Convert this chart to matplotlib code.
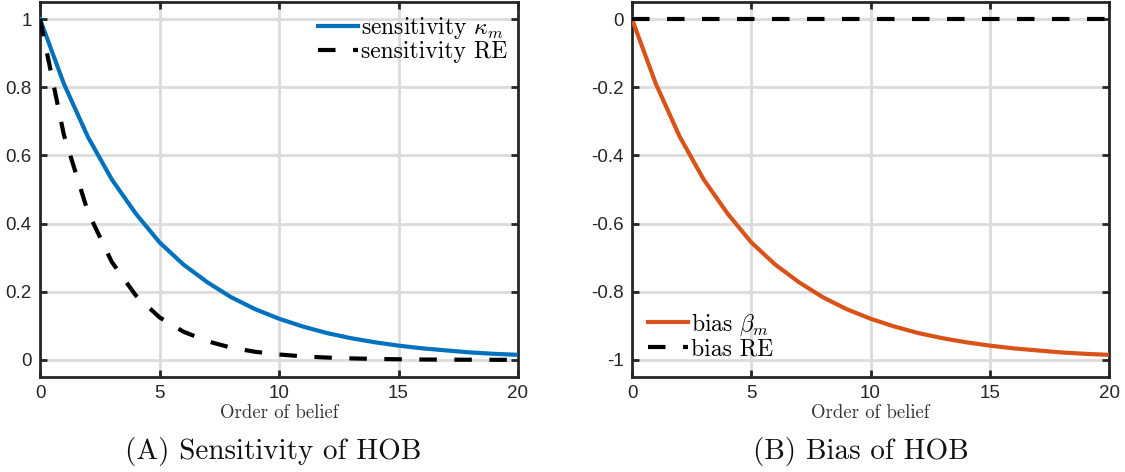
import matplotlib
matplotlib.use("Agg")
import matplotlib.pyplot as plt

# ---- data ----
order = list(range(21))
kappa_m = [1.0, 0.81, 0.655, 0.53, 0.43, 0.345, 0.28, 0.228, 0.184, 0.149, 0.121,
           0.098, 0.079, 0.064, 0.052, 0.042, 0.034, 0.028, 0.022, 0.018, 0.015]
kappa_re = [1.0, 0.66, 0.435, 0.288, 0.19, 0.125, 0.083, 0.055, 0.036, 0.024, 0.016,
            0.0105, 0.007, 0.0046, 0.003, 0.002, 0.0013, 0.0009, 0.0006, 0.0004, 0.0003]
beta_m = [0.0, -0.19, -0.345, -0.47, -0.57, -0.655, -0.72, -0.772, -0.816, -0.851, -0.879,
          -0.902, -0.921, -0.936, -0.948, -0.958, -0.966, -0.972, -0.978, -0.982, -0.985]
beta_re = [0.0] * 21

xticks = [0, 5, 10, 15, 20]
xticklabels = ['0', '5', '10', '15', '20']
yticks_a = [0, 0.2, 0.4, 0.6, 0.8, 1.0]
yticklabels_a = ['0', '0.2', '0.4', '0.6', '0.8', '1']
yticks_b = [-1.0, -0.8, -0.6, -0.4, -0.2, 0.0]
yticklabels_b = ['-1', '-0.8', '-0.6', '-0.4', '-0.2', '0']

xlabel = 'Order of belief'
caption_a = '(A) Sensitivity of HOB'
caption_b = '(B) Bias of HOB'
leg_a = [r'sensitivity $\kappa_m$', 'sensitivity RE']
leg_b = [r'bias $\beta_m$', 'bias RE']

# ---- style ----
plt.rcParams['mathtext.fontset'] = 'cm'
BLUE = '#0072BD'
ORANGE = '#D95319'
SPINE = '#262626'
GRID = '#dcdcdc'
SERIF = 'cmr10'
TICKFONT = 'Liberation Sans'
DASH = (4.2, 4.2)

W, H = 1125, 472
fig = plt.figure(figsize=(W / 100, H / 100), dpi=100)

def px_axes(x0, y0, x1, y1):
    return fig.add_axes([x0 / W, 1 - y1 / H, (x1 - x0) / W, (y1 - y0) / H])

ax1 = px_axes(40, 2, 518, 377)
ax2 = px_axes(632, 2, 1109, 377)

def style(ax, yticks, yticklabels, ylim):
    ax.set_xlim(0, 20)
    ax.set_ylim(*ylim)
    ax.set_xticks(xticks)
    ax.set_xticklabels(xticklabels, fontfamily=TICKFONT, fontsize=13.5, color=SPINE)
    ax.set_yticks(yticks)
    ax.set_yticklabels(yticklabels, fontfamily=TICKFONT, fontsize=13.5, color=SPINE)
    ax.grid(True, color=GRID, linewidth=2.0, zorder=0)
    ax.set_axisbelow(True)
    for s in ax.spines.values():
        s.set_color(SPINE)
        s.set_linewidth(2.0)
    ax.tick_params(direction='in', length=5, width=2.0, color=SPINE,
                   top=True, right=True, pad=6)
    ax.set_xlabel(xlabel, fontfamily=SERIF, fontsize=13.5, color='#333333', labelpad=1)

style(ax1, yticks_a, yticklabels_a, (-0.05, 1.05))
style(ax2, yticks_b, yticklabels_b, (-1.05, 0.05))

leg_kw = dict(frameon=False, prop={'family': SERIF, 'size': 17}, handlelength=1.7,
              handletextpad=0.1, labelspacing=0.0, borderaxespad=0.0, borderpad=0.0)

l1, = ax1.plot(order, kappa_m, color=BLUE, linewidth=3.0, zorder=3)
l2, = ax1.plot(order, kappa_re, color='black', linewidth=3.0, dashes=DASH, zorder=3)
ax1.legend([l1, l2], leg_a, loc='upper right', bbox_to_anchor=(0.977, 0.965), **leg_kw)

l3, = ax2.plot(order, beta_m, color=ORANGE, linewidth=3.0, zorder=3)
l4, = ax2.plot(order, beta_re, color='black', linewidth=3.0, dashes=DASH, zorder=3)
ax2.legend([l3, l4], leg_b, loc='lower left', bbox_to_anchor=(0.034, 0.045), **leg_kw)

fig.text(273 / W, 1 - 451 / H, caption_a, fontfamily=SERIF, fontsize=21,
         ha='center', va='center', color='#111111')
fig.text(861 / W, 1 - 451 / H, caption_b, fontfamily=SERIF, fontsize=21,
         ha='center', va='center', color='#111111')

fig.savefig('out.png', dpi=100)
